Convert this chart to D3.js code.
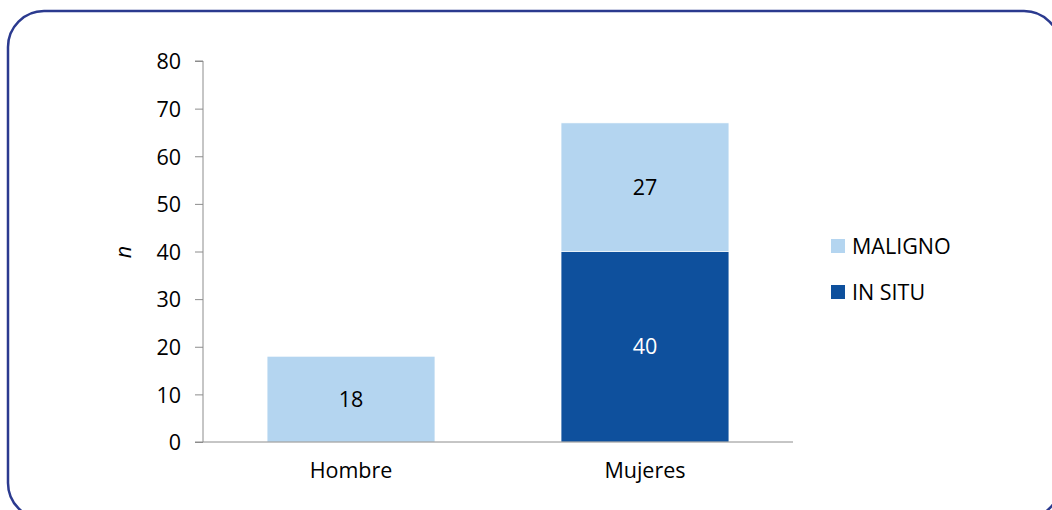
<!DOCTYPE html>
<html><head><meta charset="utf-8">
<script src="https://cdn.jsdelivr.net/npm/d3@7"></script>
<style>body{margin:0;background:#fff}svg{display:block}text{font-family:"Open Sans",sans-serif;fill:#000}</style>
</head><body><svg id="c" width="1052" height="510"></svg>
<script>
const categories = ["Hombre", "Mujeres"];
const seriesNames = ["IN SITU", "MALIGNO"];
const inSitu = [0, 40];
const maligno = [18, 27];
const yTicks = [0, 10, 20, 30, 40, 50, 60, 70, 80];
const colors = {"IN SITU": "#0E509D", "MALIGNO": "#B4D5F0"};
const FONT = "'Open Sans', sans-serif";
const FS = "21.5px";

const svg = d3.select("#c");
svg.append("rect").attr("x", 8).attr("y", 11).attr("width", 1052).attr("height", 508)
  .attr("rx", 36).attr("ry", 36).attr("fill", "none").attr("stroke", "#2B3A8F").attr("stroke-width", 2.5);

const x0 = 203, x1 = 793, yB = 442, yT = 61;
const x = d3.scaleBand().domain(categories).range([x0, x1]).paddingInner(0.429).paddingOuter(0.218);
const y = d3.scaleLinear().domain([0, 80]).range([yB, yT]);

const rows = categories.map((c, i) => ({cat: c, "IN SITU": inSitu[i], "MALIGNO": maligno[i]}));
const stacked = d3.stack().keys(seriesNames)(rows);
const g = svg.append("g");
stacked.forEach(s => {
  s.forEach(d => {
    const v = d[1] - d[0];
    if (v <= 0) return;
    g.append("rect").attr("x", x(d.data.cat)).attr("width", x.bandwidth())
      .attr("y", y(d[1])).attr("height", y(d[0]) - y(d[1]))
      .attr("fill", colors[s.key]).attr("stroke", "#fff").attr("stroke-width", 0.6);
    g.append("text").attr("x", x(d.data.cat) + x.bandwidth() / 2).attr("y", (y(d[0]) + y(d[1])) / 2)
      .attr("dy", "0.36em").attr("text-anchor", "middle").style("font-size", FS)
      .style("fill", s.key === "IN SITU" ? "#fff" : "#000").text(v);
  });
});

const yAxis = svg.append("g").attr("transform", `translate(${x0},0)`)
  .call(d3.axisLeft(y).tickValues(yTicks).tickSize(8).tickPadding(14));
yAxis.select(".domain").attr("stroke", "#8c8c8c").attr("d", `M-8,${yT}H0V${yB}H-8`);
yAxis.selectAll(".tick line").attr("stroke", "#8c8c8c");
yAxis.selectAll(".tick text").style("font-size", FS).style("font-family", FONT).attr("dy", "0.36em");

const xAxis = svg.append("g").attr("transform", `translate(0,${yB})`)
  .call(d3.axisBottom(x).tickSize(0).tickPadding(21));
xAxis.select(".domain").attr("stroke", "#8c8c8c").attr("d", `M${x0},0H${x1}`);
xAxis.selectAll(".tick text").style("font-size", FS).style("font-family", FONT);

svg.append("text").attr("transform", "translate(125,252) rotate(-90)").attr("text-anchor", "middle")
  .attr("dy", "0.3em").style("font-size", FS).style("font-style", "italic").text("n");

const legendItems = ["MALIGNO", "IN SITU"];
legendItems.forEach((k, i) => {
  const ly = 246 + i * 46;
  svg.append("rect").attr("x", 831).attr("y", ly - 7).attr("width", 14).attr("height", 14).attr("fill", colors[k]);
  svg.append("text").attr("x", 852).attr("y", ly).attr("dy", "0.36em").style("font-size", FS).text(k);
});
</script></body></html>
